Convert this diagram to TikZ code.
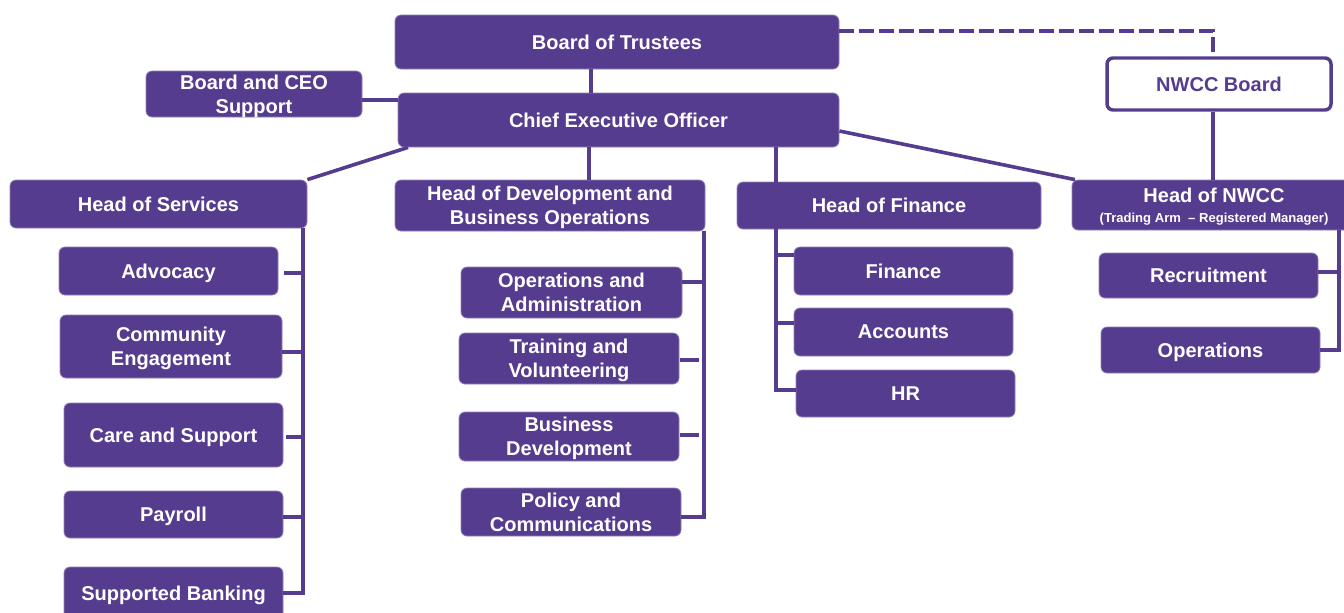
\documentclass[tikz,border=0pt]{standalone}
\usepackage{fontspec}
\setmainfont{Liberation Sans}
\usetikzlibrary{calc}
\definecolor{pp}{RGB}{86,60,142}
\newcommand\orgbox[7][]{%
  \pgfmathsetmacro\cx{(#3+#5)/2}\pgfmathsetmacro\cy{(#4+#6)/2}%
  \pgfmathsetmacro\ww{(#5-#3)*0.75}\pgfmathsetmacro\hh{(#6-#4)*0.75}%
  \node[box,minimum width=\ww pt,minimum height=\hh pt,#1] (#2) at (\cx,\cy) {#7};}
\tikzset{
  box/.style={rectangle, rounded corners=4.5pt, fill=pp, draw=pp!65!white, line width=0.6pt,
    text=white, font=\bfseries\fontsize{15}{18}\selectfont, align=center, inner sep=0pt, text depth=0pt},
  outlinebox/.style={fill=white, draw=pp, line width=2.6pt, text=pp},
  ln/.style={draw=pp, line width=2.7pt},
  dashln/.style={draw=pp, line width=2.7pt, dash pattern=on 11pt off 4pt},
}
\begin{document}
\begin{tikzpicture}[x=0.75pt,y=-0.75pt]
\useasboundingbox (0,0) rectangle (1344,612);
% top
\orgbox{bot}{395}{15}{839}{69}{Board of Trustees}
\orgbox{bcs}{146}{71}{362}{117}{Board and CEO\\Support}
\orgbox{ceo}{398}{93}{839}{147}{Chief Executive Officer}
\orgbox[outlinebox]{nb}{1107}{58}{1331}{110}{NWCC Board}
% heads
\orgbox{hs}{10}{180}{307}{228}{Head of Services}
\orgbox{hd}{395}{180}{705}{231}{Head of Development and\\Business Operations}
\orgbox{hf}{737}{182}{1041}{229}{Head of Finance}
\orgbox{hn}{1072}{180}{1356}{230}{Head of NWCC\\[-3pt]{\fontsize{9.8}{11}\selectfont (Trading Arm\ \ -- Registered Manager)}}
% services
\orgbox{adv}{59}{247}{278}{295}{Advocacy}
\orgbox{ce}{60}{315}{282}{378}{Community\\Engagement}
\orgbox{cs}{64}{403}{283}{467}{Care and Support}
\orgbox{pay}{64}{491}{283}{538}{Payroll}
\orgbox{sb}{64}{567}{283}{620}{Supported Banking}
% development
\orgbox{oa}{461}{267}{682}{318}{Operations and\\Administration}
\orgbox{tv}{459}{333}{679}{384}{Training and\\Volunteering}
\orgbox{bd}{459}{412}{679}{461}{Business\\Development}
\orgbox{pc}{461}{488}{681}{536}{Policy and\\Communications}
% finance
\orgbox{fin}{794}{247}{1013}{295}{Finance}
\orgbox{acc}{794}{308}{1013}{356}{Accounts}
\orgbox{hr}{796}{370}{1015}{417}{HR}
% nwcc
\orgbox{rec}{1099}{253}{1318}{298}{Recruitment}
\orgbox{op}{1101}{327}{1320}{373}{Operations}
% connectors
\draw[ln] (591,0 |- bot.south) -- (591,0 |- ceo.north);
\draw[dashln] (bot.east |- 0,31) -- (1213,31) -- (1213,0 |- nb.north);
\draw[ln] (bcs.east |- 0,100) -- (ceo.west |- 0,100);
\draw[ln] (408,0 |- ceo.south) -- (hs.north east);
\draw[ln] (589,0 |- ceo.south) -- (589,0 |- hd.north);
\draw[ln] (ceo.east |- 0,131) -- (1075,0 |- hn.north);
\draw[ln] (1213,0 |- nb.south) -- (1213,0 |- hn.north);
% services spine
\draw[ln] (303,0 |- hs.south) -- (303,593) -- (sb.east |- 0,593);
\draw[ln] (284,273) -- (303,273);
\draw[ln] (ce.east |- 0,352) -- (303,352);
\draw[ln] (286,437) -- (303,437);
\draw[ln] (pay.east |- 0,517) -- (303,517);
% development spine
\draw[ln] (704,0 |- hd.south) -- (704,517) -- (pc.east |- 0,517);
\draw[ln] (oa.east |- 0,282) -- (704,282);
\draw[ln] (680,360) -- (699,360);
\draw[ln] (680,435) -- (699,435);
% finance spine
\draw[ln] (776,0 |- ceo.south) -- (776,390) -- (hr.west |- 0,390);
\draw[ln] (776,255) -- (fin.west |- 0,255);
\draw[ln] (776,323) -- (acc.west |- 0,323);
% nwcc spine
\draw[ln] (1339,0 |- hn.south) -- (1339,350) -- (op.east |- 0,350);
\draw[ln] (rec.east |- 0,272) -- (1339,272);
\end{tikzpicture}
\end{document}
